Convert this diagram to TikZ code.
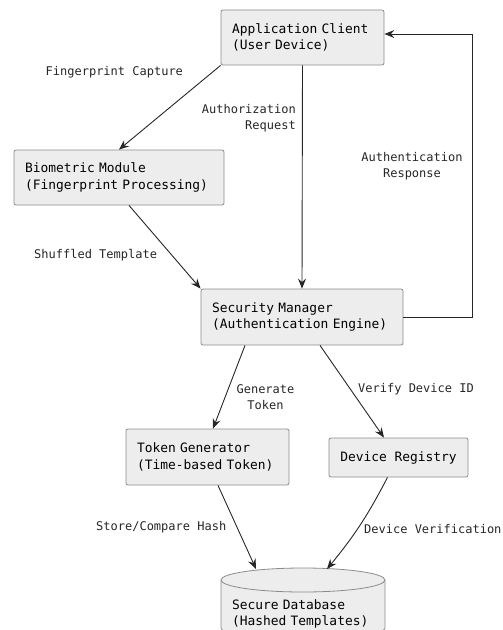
\documentclass[tikz,border=0pt]{standalone}
\usepackage{fontspec}
\setmainfont{DejaVu Sans Mono}
\usetikzlibrary{arrows.meta,calc}
\begin{document}
\begin{tikzpicture}[x=1pt,y=1pt,
  box/.style={draw=black!45, fill=black!7, rounded corners=2pt, line width=0.8pt,
    inner xsep=11pt, inner ysep=0pt, align=left,
    font=\fontsize{12.9}{16.5}\selectfont},
  lbl/.style={inner sep=0pt, font=\fontsize{12}{16.5}\selectfont, text=black!85},
  arr/.style={draw=black!85, line width=0.9pt, -{Stealth[length=10pt,width=8pt,inset=3.5pt]}}
]
\useasboundingbox (0,0) rectangle (503,-630);
\clip (0,0) rectangle (503,-630);
% nodes
\node[box, minimum width=163, minimum height=55, text width=141] (app) at (302.5,-37.5)
  {Application Client\\(User Device)};
\node[box, minimum width=210, minimum height=55, text width=188] (bio) at (119,-177.5)
  {Biometric Module\\(Fingerprint Processing)};
\node[box, minimum width=202, minimum height=56, text width=180] (sec) at (302,-317)
  {Security Manager\\(Authentication Engine)};
\node[box, minimum width=163, minimum height=56, text width=141] (tok) at (207.5,-457)
  {Token Generator\\(Time-based Token)};
\node[box, minimum width=139, minimum height=39, align=center] (dev) at (398.5,-457.5)
  {Device Registry};
% database cylinder
\filldraw[draw=black!45, fill=black!7, line width=0.8pt]
  (221,-580) -- (221,-628) arc[start angle=180,end angle=360,x radius=82,y radius=12]
  -- (385,-580) arc[start angle=0,end angle=180,x radius=82,y radius=12] -- cycle;
\draw[draw=black!45, line width=0.8pt] (221,-580) arc[start angle=180,end angle=360,x radius=82,y radius=12];
\node[box, draw=none, fill=none, minimum width=164, minimum height=40, text width=142] (db) at (303,-614)
  {Secure Database\\(Hashed Templates)};
\coordinate (dbl) at (256,-569);
\coordinate (dbr) at (327,-569);
\coordinate (rt) at (472,-34);
% connectors
\draw[arr] (app.south west) -- (bio.north);
\draw[arr] (app.south) -- (sec.north);
\draw[arr] (sec.east) -| (rt) -- (rt -| app.east);
\draw[arr] ($(bio.south)+(10,0)$) -- (sec.north west);
\draw[arr] ($(sec.south)+(-57,0)$) -- ($(tok.north)+(5.5,0)$);
\draw[arr] ($(sec.south)+(18,0)$) -- ($(dev.north)+(-14.5,0)$);
\draw[arr] ($(tok.south)+(10.5,0)$) -- (dbl);
\draw[arr] ($(dev.south)+(-11,0)$) to[bend left=6] (dbr);
% labels
\node[lbl, anchor=west] (l1) at (45.5,-72) {Fingerprint Capture};
\node[lbl, anchor=east, align=right] (l2) at (296,-118) {Authorization\\Request};
\node[lbl, align=center] (l3) at (412,-166) {Authentication\\Response};
\node[lbl, anchor=west] (l4) at (34,-255) {Shuffled Template};
\node[lbl, align=center] (l5) at (265.5,-397) {Generate\\Token};
\node[lbl, anchor=west] (l6) at (358,-389) {Verify Device ID};
\node[lbl, anchor=west] (l7) at (96,-527) {Store/Compare Hash};
\node[lbl, anchor=west] (l8) at (364,-529) {Device Verification};
\end{tikzpicture}
\end{document}
